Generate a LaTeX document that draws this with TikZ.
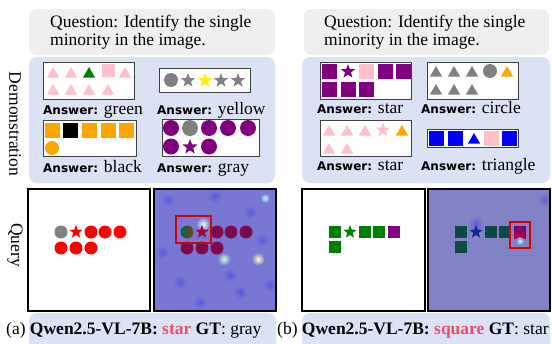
\documentclass[tikz,border=0pt]{standalone}
\usepackage{fontspec}
\setmainfont{Liberation Serif}
\newfontfamily\ansfont{DejaVu Sans}
\usetikzlibrary{shapes.geometric}

\definecolor{qgray}{HTML}{EFEFEF}
\definecolor{demoblue}{HTML}{DAE2F3}
\definecolor{heatL}{HTML}{7878D4}
\definecolor{heatR}{HTML}{8282C6}
\definecolor{maroon}{HTML}{7D0A4E}
\definecolor{darkteal}{HTML}{0E4A45}
\definecolor{hlred}{HTML}{E8506A}
\definecolor{pinkc}{HTML}{FFC0CB}
\definecolor{orangec}{HTML}{FFA500}
\definecolor{purplec}{HTML}{800080}

\newcommand{\answer}[1]{{\ansfont\bfseries\fontsize{12}{14}\selectfont Answer:} #1}

\begin{document}
\begin{tikzpicture}[x=1pt,y=-1pt,
    txt/.style={anchor=base west,inner sep=0pt,font=\fontsize{17.5}{20}\selectfont},
    panel/.style={rounded corners=8pt},
    frame/.style={draw=black!75,line width=0.9pt,fill=white},
    tri/.style={regular polygon,regular polygon sides=3,fill=#1,inner sep=0pt,minimum size=14pt},
    sq/.style={rectangle,fill=#1,inner sep=0pt,minimum size=15pt},
    dot/.style={circle,fill=#1,inner sep=0pt,minimum size=14pt},
    st/.style={star,star points=5,star point ratio=2.4,fill=#1,inner sep=0pt,minimum size=15pt},
    glow/.style={inner color=#1,outer color=heatL}]
    \useasboundingbox (0,0) rectangle (552,343);

    % backgrounds
    \fill[panel,qgray] (29,9) rectangle (275,55);
    \fill[panel,qgray] (304,9) rectangle (549,55);
    \fill[panel,demoblue] (29,57) rectangle (275,183);
    \fill[panel,demoblue] (302,57) rectangle (550,183);
    \fill[panel,demoblue] (29,313) rectangle (276,352);
    \fill[panel,demoblue] (302,313) rectangle (550,352);

    % questions
    \node[txt] (qa1) at (50,27) {Question: Identify the single};
    \node[txt] (qa2) at (50,45) {minority in the image.};
    \node[txt] (qb1) at (324,27) {Question: Identify the single};
    \node[txt] (qb2) at (324,45) {minority in the image.};

    \node[font=\fontsize{17.5}{20}\selectfont,rotate=-90] (demo) at (15,124) {Demonstration};
    \node[font=\fontsize{17.5}{20}\selectfont,rotate=-90] (query) at (15,245) {Query};

    % (a) demonstrations
    \draw[frame] (43,62) rectangle (134,99);
    \foreach \x in {53,71,125} \node[tri=pinkc] at (\x,74) {};
    \node[tri=green!50!black] at (89,74) {};
    \node[sq=pinkc,minimum size=13pt] at (108,70.5) {};
    \foreach \x in {53,71,89,108} \node[tri=pinkc] at (\x,91) {};
    \node[txt] (ansa1) at (43,114) {\answer{green}};

    \draw[frame] (159,68) rectangle (250,92);
    \node[dot=gray] at (171,80) {};
    \foreach \x in {188,221,238} \node[st=gray] at (\x,80.5) {};
    \node[st=yellow] at (205,80.5) {};
    \node[txt] (ansa2) at (157,114) {\answer{yellow}};

    \draw[frame] (43,120) rectangle (136,156);
    \foreach \x in {52,89,108,126} \node[sq=orangec] at (\x,130) {};
    \node[sq=black] at (70,130) {};
    \node[dot=orangec] at (52,148) {};
    \node[txt] (ansa3) at (43,172) {\answer{black}};

    \draw[frame] (162,119) rectangle (259,156);
    \foreach \x in {171,209,228,248} \node[dot=purplec,minimum size=16pt] at (\x,128) {};
    \node[dot=gray,minimum size=16pt] at (190,128) {};
    \foreach \x in {171,209} \node[dot=purplec,minimum size=16pt] at (\x,146.5) {};
    \node[st=purplec,minimum size=16pt] at (190,147) {};
    \node[txt] (ansa4) at (157,172) {\answer{gray}};

    % (b) demonstrations
    \draw[frame] (320,62) rectangle (411,99);
    \foreach \x in {329,385,403} \node[sq=purplec] at (\x,71.5) {};
    \node[st=purplec] at (348,71.5) {};
    \node[sq=pinkc] at (366,71.5) {};
    \foreach \x in {329,348,366} \node[sq=purplec] at (\x,89.5) {};
    \node[txt] (ansb1) at (317,113) {\answer{star}};

    \draw[frame] (427,62) rectangle (518,99);
    \foreach \x in {436,454,472} \node[tri=gray] at (\x,73) {};
    \node[dot=gray] at (490,71) {};
    \node[tri=orangec] at (507,73) {};
    \foreach \x in {436,454,472} \node[tri=gray] at (\x,91) {};
    \node[txt] (ansb2) at (421,113) {\answer{circle}};

    \draw[frame] (320,120) rectangle (411,156);
    \foreach \x in {329,347,365} \node[tri=pinkc] at (\x,132) {};
    \node[st=pinkc] at (383,130) {};
    \node[tri=orangec] at (402,132) {};
    \foreach \x in {329,347} \node[tri=pinkc] at (\x,150) {};
    \node[txt] (ansb3) at (317,170) {\answer{star}};

    \draw[frame] (427,129) rectangle (518,147);
    \foreach \x in {436,455,509} \node[sq=blue] at (\x,138) {};
    \node[tri=blue] at (474,140) {};
    \node[sq=pinkc] at (491,138) {};
    \node[txt] (ansb4) at (421,170) {\answer{triangle}};

    % (a) query
    \draw[line width=1.2pt,fill=white] (28,189) rectangle (150,311);
    \node[dot=gray,minimum size=13pt] at (61,232) {};
    \node[st=red,minimum size=14pt] at (76,232) {};
    \foreach \x in {91,105,120} \node[dot=red,minimum size=13pt] at (\x,232) {};
    \foreach \x in {61,76,91} \node[dot=red,minimum size=13pt] at (\x,248) {};

    \fill[heatL] (154,189) rectangle (276,311);
    \begin{scope}
        \clip (154,189) rectangle (276,311);
        \foreach \p in {(168,200),(180,282),(240,292),(262,240),(200,302),(250,212),(162,252),(230,275),(270,285),(215,196)}
            \shade[glow=blue!25!heatL] \p circle (7);
        \shade[glow=green!10!white] (203,224) circle (7);
        \shade[glow=green!20!white] (224,259) circle (6.5);
        \shade[glow=yellow!25!white] (258,259) circle (6.5);
        \shade[glow=cyan!30!white] (265,198) circle (5);
    \end{scope}
    \shade[left color=teal!80!black,right color=orange!50!black] (187,232) circle (6.5);
    \node[st=maroon!80!red,minimum size=14pt] at (202,232) {};
    \foreach \x in {217,231,246} \node[dot=maroon,minimum size=13pt] at (\x,232) {};
    \foreach \x in {187,202,217} \node[dot=maroon,minimum size=13pt] at (\x,248) {};
    \draw[red!85!black,line width=1.2pt] (176,216) rectangle (211,243);
    \draw[line width=1.2pt] (154,189) rectangle (276,311);

    % (b) query
    \draw[line width=1.2pt,fill=white] (302,189) rectangle (425,311);
    \foreach \x in {335,365,379} \node[sq=green!50!black,minimum size=12pt] at (\x,232) {};
    \node[st=green!50!black,minimum size=14pt] at (350,232) {};
    \node[sq=purplec,minimum size=12pt] at (394,232) {};
    \node[sq=green!50!black,minimum size=12pt] at (335,247) {};

    \fill[heatR] (428,189) rectangle (550,311);
    \begin{scope}
        \clip (428,189) rectangle (550,311);
        \shade[inner color=blue!30!heatR,outer color=heatR] (476,224) circle (8);
        \shade[inner color=blue!25!heatR,outer color=heatR] (545,200) circle (7);
    \end{scope}
    \foreach \x in {461,491,505} \node[sq=darkteal,minimum size=12pt] at (\x,232) {};
    \node[st=blue!40!darkteal,minimum size=14pt] at (476,232) {};
    \node[sq=darkteal,minimum size=12pt] at (461,247) {};
    \shade[top color=purplec!90!black,bottom color=red!40!purplec] (514,226) rectangle (526,238);
    \shade[inner color=cyan!30!white,outer color=heatR] (520,241) circle (4);
    \draw[red!85!black,line width=1.2pt] (510,222) rectangle (530,248);
    \draw[line width=1.2pt] (428,189) rectangle (550,311);

    % captions
    \node[txt] (capa) at (6,334) {(a) \textbf{Qwen2.5-VL-7B:} \textbf{\color{hlred}star} \textbf{GT}: gray};
    \node[txt] (capb) at (277,334) {(b) \textbf{Qwen2.5-VL-7B:} \textbf{\color{hlred}square} \textbf{GT}: star};
\end{tikzpicture}
\end{document}
